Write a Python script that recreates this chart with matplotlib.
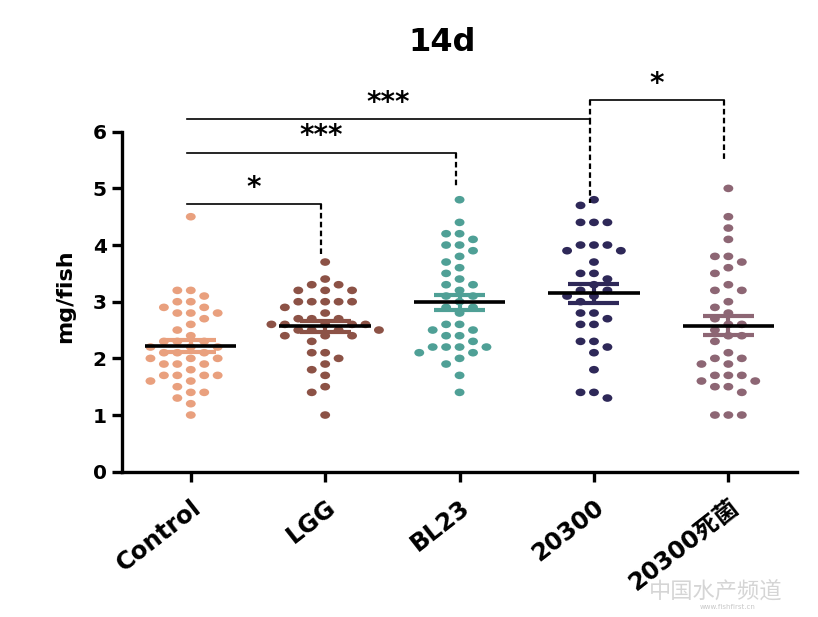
import numpy as np
import matplotlib
matplotlib.use('Agg')
import matplotlib.pyplot as plt
from matplotlib.markers import MarkerStyle
from matplotlib.transforms import Affine2D, ScaledTranslation

plt.rcParams['font.family'] = ['DejaVu Sans', 'Noto Sans CJK SC']

categories = ['Control', 'LGG', 'BL23', '20300', '20300死菌']
colors = ['#E9A07E', '#8C5246', '#4FA096', '#2E2858', '#8D6674']

control = [4.5, 3.2, 3.2, 3.1, 3.0, 3.0, 2.9, 2.9, 2.8, 2.8, 2.8, 2.7, 2.6, 2.5,
           2.4, 2.3, 2.3, 2.3, 2.2, 2.2, 2.2, 2.1, 2.1, 2.1, 2.0, 2.0, 2.0, 1.9,
           1.9, 1.9, 1.8, 1.7, 1.7, 1.7, 1.7, 1.6, 1.6, 1.5, 1.4, 1.4, 1.3, 1.2, 1.0]
lgg = [3.7, 3.4, 3.3, 3.3, 3.2, 3.2, 3.2, 3.0, 3.0, 3.0, 3.0, 3.0, 2.9, 2.8,
       2.7, 2.7, 2.7, 2.6, 2.6, 2.6, 2.6, 2.6, 2.5, 2.5, 2.5, 2.5, 2.4, 2.4,
       2.4, 2.3, 2.1, 2.1, 2.0, 1.9, 1.8, 1.7, 1.5, 1.4, 1.0]
bl23 = [4.8, 4.4, 4.2, 4.2, 4.1, 4.0, 4.0, 3.9, 3.8, 3.7, 3.6, 3.5, 3.4, 3.3,
        3.3, 3.2, 3.1, 3.1, 3.0, 2.9, 2.9, 2.8, 2.6, 2.6, 2.5, 2.5, 2.4, 2.4,
        2.3, 2.2, 2.2, 2.2, 2.2, 2.1, 2.1, 2.0, 1.9, 1.7, 1.4]
s20300 = [4.8, 4.7, 4.4, 4.4, 4.4, 4.0, 4.0, 4.0, 3.9, 3.9, 3.7, 3.5, 3.5, 3.4,
          3.3, 3.2, 3.2, 3.1, 3.1, 3.0, 2.8, 2.8, 2.7, 2.6, 2.6, 2.3, 2.3, 2.2,
          2.1, 1.8, 1.4, 1.4, 1.3]
killed = [5.0, 4.5, 4.3, 4.1, 3.8, 3.8, 3.7, 3.6, 3.5, 3.3, 3.2, 3.2, 3.0, 2.9,
          2.8, 2.7, 2.6, 2.6, 2.5, 2.4, 2.4, 2.3, 2.1, 2.0, 2.0, 1.9, 1.9, 1.7,
          1.7, 1.7, 1.6, 1.6, 1.5, 1.5, 1.4, 1.0, 1.0, 1.0]
groups = [control, lgg, bl23, s20300, killed]

yticks = [0, 1, 2, 3, 4, 5, 6]
title = '14d'
ylabel = 'mg/fish'

# comparisons: (group i, group j, label)
comparisons = [(0, 1, '*'), (0, 2, '***'), (0, 3, '***'), (3, 4, '*')]


def swarm_offsets(vals, step, gap=0.15):
    """Greedy beeswarm on a column grid: a dot may not share a column
    with a dot closer than `gap` in value."""
    vals = np.asarray(vals, dtype=float)
    order = np.argsort(-vals, kind='stable')
    placed = {}
    offs = np.zeros(len(vals))
    cand = [0]
    for c in range(1, 8):
        cand += [-c, c]
    for n, idx in enumerate(order):
        v = vals[idx]
        for c in cand:
            if all(abs(v - w) >= gap - 1e-9 for w in placed.get(c, [])):
                placed.setdefault(c, []).append(v)
                offs[idx] = c * step
                break
    return offs


fig = plt.figure(figsize=(8.18, 6.17), dpi=100)
ax = fig.add_axes([0.1491, 0.2355, 0.8256, 0.5510])

marker = MarkerStyle('o', transform=Affine2D().scale(1.3, 1.0))
for i, (vals, col) in enumerate(zip(groups, colors)):
    x = i + swarm_offsets(vals, 0.1)
    ax.scatter(x, vals, s=30, marker=marker, color=col, edgecolors='none', zorder=2)
    m = np.mean(vals)
    sem = np.std(vals, ddof=1) / np.sqrt(len(vals))
    ax.plot([i, i], [m - sem, m + sem], color=col, lw=3, zorder=3, solid_capstyle='butt')
    for yy in (m - sem, m + sem):
        ax.plot([i - 0.19, i + 0.19], [yy, yy], color=col, lw=3, zorder=3, solid_capstyle='butt')
    ax.plot([i - 0.34, i + 0.34], [m, m], color='black', lw=2.6, zorder=4, solid_capstyle='butt')

ax.set_xlim(-0.512, 4.513)
ax.set_ylim(0, 6)
ax.set_yticks(yticks)
ax.set_xticks(range(len(categories)))
ax.set_xticklabels(categories, rotation=38, ha='right', va='top',
                   rotation_mode='anchor', fontsize=17.5, fontweight='bold')
for lab in ax.get_xticklabels():
    lab.set_transform(lab.get_transform() + ScaledTranslation(0.08, 0, fig.dpi_scale_trans))
for lab in ax.get_yticklabels():
    lab.set_fontweight('bold')
ax.tick_params(axis='y', labelsize=14.5, width=2.4, length=7, pad=4)
ax.tick_params(axis='x', width=2.4, length=7, pad=10)
for sp in ('top', 'right'):
    ax.spines[sp].set_visible(False)
for sp in ('left', 'bottom'):
    ax.spines[sp].set_linewidth(2.4)
ax.set_ylabel(ylabel, fontsize=16, fontweight='bold')
ax.yaxis.set_label_coords(-0.07, 0.515)

# significance bars
levels = [4.72, 5.63, 6.22, 6.56]
drops_right = [3.82, 5.03, 4.74, 5.50]
star_off = 0.29
for (i, j, lab), lv, dr in zip(comparisons, levels, drops_right):
    x0, x1 = i - 0.03, j - 0.03
    ax.plot([x0, x1], [lv, lv], color='black', lw=1.2, clip_on=False, zorder=5)
    ax.plot([x1, x1], [lv, dr], color='black', lw=1.6, ls=(0, (2.5, 1.5)),
            clip_on=False, zorder=5)
    ax.text((x0 + x1) / 2, lv + star_off, lab, ha='center', va='center',
            fontsize=20, fontweight='bold', clip_on=False)
# left drop of last comparison joins the 20300 line
ax.plot([3 - 0.03, 3 - 0.03], [levels[3], levels[2]], color='black', lw=1.6,
        ls=(0, (2.5, 1.5)), clip_on=False, zorder=5)

fig.text(0.540, 1 - 42.5 / 617, title, ha='center', va='center',
         fontsize=23, fontweight='bold')

# watermark
fig.text(0.875, 1 - 591 / 617, '中国水产频道', ha='center', va='center',
         fontsize=16, color='#D5D5D5', family=['Noto Sans CJK SC'])
fig.text(0.89, 1 - 607 / 617, 'www.fishfirst.cn', ha='center', va='center',
         fontsize=5, color='#C8C8C8')

fig.savefig('out.png', dpi=100)
